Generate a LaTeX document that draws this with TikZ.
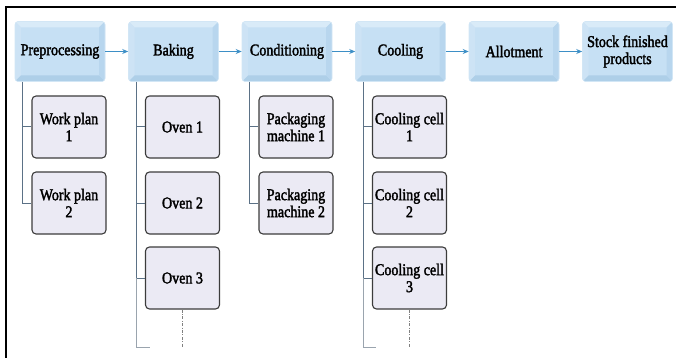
\documentclass[tikz,border=0pt]{standalone}
\usepackage{fontspec}
\setmainfont{Liberation Serif}[FakeStretch=0.85,FakeBold=2]
\usetikzlibrary{arrows.meta}
\definecolor{topmid}{HTML}{C6E0F4}
\definecolor{topedge}{HTML}{D2E6F5}
\definecolor{bevtop}{HTML}{D9EBF8}
\definecolor{bevleft}{HTML}{CDE3F5}
\definecolor{bevbot}{HTML}{AECFE8}
\definecolor{bevright}{HTML}{B8D6EE}
\definecolor{subfill}{HTML}{EBEAF4}
\definecolor{subedge}{HTML}{3C3C3C}
\definecolor{arrowblue}{HTML}{3D8FC6}
\definecolor{treeline}{HTML}{5B7186}
\definecolor{treelight}{HTML}{9AA4AE}
\tikzset{
  every node/.style={font=\fontsize{16.5}{17}\selectfont, align=center, inner sep=0pt},
  topbox/.style={rounded corners=3pt, minimum width=90pt, minimum height=60pt,
    fill=topmid, draw=topedge, line width=0.6pt,
    path picture={
      \begin{scope}[sharp corners]
      \coordinate (NW) at (path picture bounding box.north west);
      \coordinate (NE) at (path picture bounding box.north east);
      \coordinate (SW) at (path picture bounding box.south west);
      \coordinate (SE) at (path picture bounding box.south east);
      \fill[bevtop] (NW) -- (NE) -- ([shift={(-6pt,-6pt)}]NE) -- ([shift={(6pt,-6pt)}]NW) -- cycle;
      \fill[bevleft] (NW) -- (SW) -- ([shift={(6pt,6pt)}]SW) -- ([shift={(6pt,-6pt)}]NW) -- cycle;
      \fill[bevbot] (SW) -- (SE) -- ([shift={(-6pt,6pt)}]SE) -- ([shift={(6pt,6pt)}]SW) -- cycle;
      \fill[bevright] (NE) -- (SE) -- ([shift={(-6pt,6pt)}]SE) -- ([shift={(-6pt,-6pt)}]NE) -- cycle;
      \end{scope}
    }},
  subbox/.style={rounded corners=4pt, minimum width=74pt, minimum height=62pt,
    fill=subfill, draw=subedge, line width=1.1pt},
  flow/.style={draw=arrowblue, line width=0.9pt, -{Stealth[length=6pt,width=5pt]}},
  tree/.style={draw=treeline, line width=1pt},
  treefade/.style={draw=treelight, line width=1pt},
  more/.style={draw=gray, line width=0.6pt, dash pattern=on 3pt off 1.5pt on 0.8pt off 1.5pt},
  frameline/.style={draw=black, line width=1.8pt},
}
\begin{document}
\begin{tikzpicture}[x=1pt,y=-1pt]
\useasboundingbox (0,0) rectangle (676,358);
% frame
\coordinate (fbl) at (6,358);
\coordinate (ftl) at (6,7);
\coordinate (ftr) at (676,7);
\draw[frameline] (fbl) -- (ftl) -- (ftr);

% top row
\node[topbox] (pre)  at (60,51.5)    {Preprocessing};
\node[topbox] (bake) at (173.5,51.5) {Baking};
\node[topbox] (cond) at (287,51.5)   {Conditioning};
\node[topbox] (cool) at (400.5,51.5) {Cooling};
\node[topbox] (allot) at (514,51.5)  {Allotment};
\node[topbox] (stock) at (627.5,51.5) {Stock finished\\products};

\draw[flow] (pre) -- (bake);
\draw[flow] (bake) -- (cond);
\draw[flow] (cond) -- (cool);
\draw[flow] (cool) -- (allot);
\draw[flow] (allot) -- (stock);

% sub boxes
\node[subbox] (wp1) at (69,127) {Work plan\\1};
\node[subbox] (wp2) at (69,203) {Work plan\\2};
\node[subbox] (ov1) at (182.5,127) {Oven 1};
\node[subbox] (ov2) at (182.5,203) {Oven 2};
\node[subbox] (ov3) at (182.5,278) {Oven 3};
\node[subbox] (pm1) at (296,127) {Packaging\\machine 1};
\node[subbox] (pm2) at (296,203) {Packaging\\machine 2};
\node[subbox] (cc1) at (409.5,127) {Cooling cell\\1};
\node[subbox] (cc2) at (409.5,203) {Cooling cell\\2};
\node[subbox] (cc3) at (409.5,278) {Cooling cell\\3};

% tree connectors
\draw[tree] ([xshift=8pt]pre.south west) |- (wp1.west);
\draw[tree] ([xshift=8pt]pre.south west) |- (wp2.west);
\draw[tree] ([xshift=8pt]bake.south west) |- (ov1.west);
\draw[tree] ([xshift=8pt]bake.south west) |- (ov2.west);
\draw[tree] ([xshift=8pt]bake.south west) |- (ov3.west);
\draw[tree] ([xshift=8pt]cond.south west) |- (pm1.west);
\draw[tree] ([xshift=8pt]cond.south west) |- (pm2.west);
\draw[tree] ([xshift=8pt]cool.south west) |- (cc1.west);
\draw[tree] ([xshift=8pt]cool.south west) |- (cc2.west);
\draw[tree] ([xshift=8pt]cool.south west) |- (cc3.west);

% open-ended continuations
\coordinate (bakeend) at (150,347);
\coordinate (coolend) at (376,347);
\draw[treefade] (ov3.west -| bake.south west) ++(8pt,0) |- (bakeend);
\draw[treefade] (cc3.west -| cool.south west) ++(8pt,0) |- (coolend);
\coordinate (ov3more) at (182.5,348);
\coordinate (cc3more) at (409.5,348);
\draw[more] (ov3.south) -- (ov3more);
\draw[more] (cc3.south) -- (cc3more);
\end{tikzpicture}
\end{document}
